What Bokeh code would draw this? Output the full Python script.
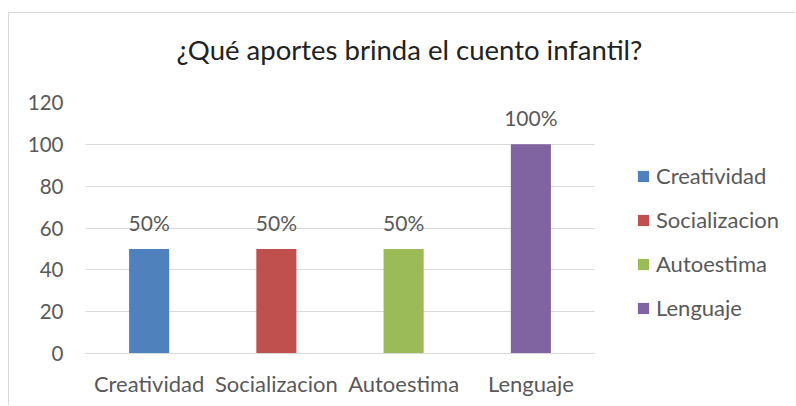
from bokeh.plotting import figure
from bokeh.models import ColumnDataSource, Range1d, FixedTicker, LabelSet, Legend, LegendItem, Title
from bokeh.core.properties import value
from bokeh.embed import file_html
from bokeh.resources import INLINE

categories = ["Creatividad", "Socializacion", "Autoestima", "Lenguaje"]
values = [50, 50, 50, 100]
colors = ["#4F81BD", "#C0504D", "#9BBB59", "#8064A2"]
y_ticks = [0, 20, 40, 60, 80, 100, 120]
title_text = "¿Qué aportes brinda el cuento infantil?"

FONT = "Lato"
GRAY = "#595959"

# layout (pixels)
W, H = 787, 393
LEFT = 76
PLOT_W = 509            # width of the category area
FRAME_W = W - LEFT      # frame runs to the right edge so the legend is not clipped

n = len(categories)
xs = [i + 0.5 for i in range(n)]

source = ColumnDataSource(dict(
    x=xs,
    cat=categories,
    val=values,
    color=colors,
    label=[f"{v}%" for v in values],
))

p = figure(
    x_range=Range1d(0, n * FRAME_W / PLOT_W),
    y_range=Range1d(0, 120),
    width=W, height=H,
    output_backend="svg",
    toolbar_location=None,
    min_border_left=LEFT, min_border_right=0,
    min_border_top=89, min_border_bottom=53,
)
p.margin = (12, 0, 0, 8)
p.styles = {"border-top": "1px solid #D9D9D9", "border-left": "1px solid #D9D9D9"}
p.outline_line_color = None
p.background_fill_color = "white"
p.border_fill_color = "white"

r = p.vbar(x="x", top="val", width=0.315, source=source, color="color", line_color=None)

labels = LabelSet(x="x", y="val", text="label", source=source,
                  text_align="center", text_baseline="alphabetic", y_offset=18,
                  text_font=value(FONT), text_font_size="21px", text_color=GRAY)
p.add_layout(labels)

# title
p.title.text = title_text
p.title.align = "left"
p.title.offset = 91
p.title.text_font = FONT
p.title.text_font_size = "27.5px"
p.title.text_font_style = "normal"
p.title.text_color = "#222222"
p.title.standoff = 34
# spacer between title and plot area
p.add_layout(Title(text=" ", text_font_size="1px", standoff=17), "above")

# axes
p.yaxis.ticker = FixedTicker(ticks=y_ticks)
p.yaxis.axis_line_color = None
p.yaxis.major_tick_line_color = None
p.yaxis.minor_tick_line_color = None
p.yaxis.major_tick_out = 0
p.yaxis.major_label_standoff = 22
p.yaxis.major_label_text_font = FONT
p.yaxis.major_label_text_font_size = "20.5px"
p.yaxis.major_label_text_color = GRAY

p.xaxis.ticker = FixedTicker(ticks=xs, minor_ticks=[])
p.xaxis.major_label_overrides = {x: c for x, c in zip(xs, categories)}
p.xaxis.bounds = (0, n)
p.xaxis.axis_line_color = "#D9D9D9"
p.xaxis.major_tick_line_color = None
p.xaxis.minor_tick_line_color = None
p.xaxis.major_tick_out = 0
p.xaxis.major_label_standoff = 16
p.xaxis.major_label_text_font = FONT
p.xaxis.major_label_text_font_size = "22px"
p.xaxis.major_label_text_color = GRAY

p.xgrid.grid_line_color = None
p.ygrid.grid_line_color = "#D9D9D9"
p.ygrid.grid_line_width = 1
if "cross_bounds" in p.ygrid[0].properties():
    p.ygrid.cross_bounds = (0, n)

items = [LegendItem(label=c, renderers=[r], index=i) for i, c in enumerate(categories)]
legend = Legend(items=items, location=(551, 32))
legend.border_line_color = None
legend.background_fill_alpha = 0
legend.padding = 0
legend.margin = 0
legend.glyph_width = 14
legend.glyph_height = 14
legend.label_standoff = 6
legend.label_height = 20
legend.spacing = 17
legend.label_text_font = FONT
legend.label_text_font_size = "22px"
legend.label_text_color = GRAY
p.add_layout(legend, "center")

open("out.html", "w").write(file_html(p, INLINE))
